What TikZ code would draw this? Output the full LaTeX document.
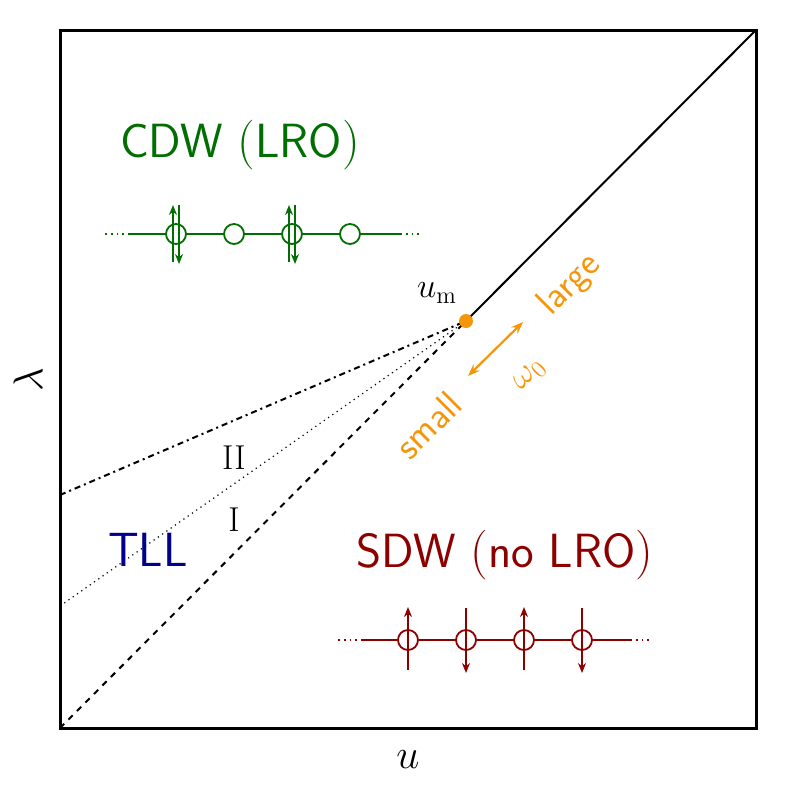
\documentclass[tikz,border=0pt]{standalone}
\usetikzlibrary{arrows.meta}
\definecolor{cdw}{RGB}{0,110,0}
\definecolor{sdw}{RGB}{140,0,0}
\definecolor{tll}{RGB}{0,0,140}
\definecolor{om}{RGB}{245,150,10}
\tikzset{
	site/.style={circle,draw,fill=white,minimum size=10pt,inner sep=0pt},
	spin/.style={-{Stealth[length=5pt,width=4pt]},line width=0.9pt},
	big/.style={font=\sffamily\fontsize{24}{28}\selectfont},
	mid/.style={font=\sffamily\fontsize{19}{22}\selectfont}
}
\begin{document}
\begin{tikzpicture}[x=0.5pt,y=-0.5pt]
		\useasboundingbox (0,0) rectangle (789,789);
		\draw[line width=1.5pt] (60,30) rectangle (756,728);
		\coordinate (um) at (466,321);
		\draw[line width=1pt] (um)--(756,30);
		\draw[line width=1pt,dashed] (60,728)--(um);
		\draw[line width=0.6pt,dotted] (60,606)--(um);
		\draw[line width=1pt,dash dot] (60,495)--(um);
		\fill[om] (um) circle (3.5pt);
		\node (uml) at (437,293) {\LARGE $u_{\mathrm{m}}$};
		\node (two) at (234,458) {\LARGE II};
		\node (one) at (234,520) {\LARGE I};
		\node (lam) at (28,380) [rotate=90] {\huge $\lambda$};
		\node (uax) at (408,760) {\huge $u$};
		% labels of the phases
		\node[big,cdw] (cdwl) at (240,145) {CDW $($LRO$)$};
		\node[big,tll] (tlll) at (148,550) {TLL};
		\node[big,sdw] (sdwl) at (505,555) {SDW $($no LRO$)$};
		% omega_0
		\coordinate (oa) at (468,376);
		\coordinate (ob) at (523,322);
		\draw[om,line width=1.1pt,{Stealth[length=6pt]}-{Stealth[length=6pt]}] (oa)--(ob);
		\node[om,rotate=45,mid] (lg) at (570,285) {large};
		\node[om,rotate=45,mid] (sm) at (428,425) {small};
		\node[om,rotate=45] (om0) at (530,375) {\LARGE $\omega_0$};
		% CDW chain
		\begin{scope}[cdw,line width=0.9pt]
		\draw[dotted] (105,234)--(128,234);
		\draw[dotted] (400,234)--(420,234);
		\draw (128,234)--(400,234);
		\foreach \x in {176,234,292,350} \node[site] (c\x) at (\x,234) {};
		\foreach \x in {176,292} {
			\draw[spin] (\x-3,262)--(\x-3,205);
			\draw[spin] (\x+3,205)--(\x+3,264);
		}
		\end{scope}
		% SDW chain
		\begin{scope}[sdw,line width=0.9pt]
		\draw[dotted] (338,640)--(361,640);
		\draw[dotted] (630,640)--(652,640);
		\draw (361,640)--(630,640);
		\foreach \x in {408,466,524,582} \node[site] (s\x) at (\x,640) {};
		\foreach \x in {408,524} \draw[spin] (\x,670)--(\x,607);
		\foreach \x in {466,582} \draw[spin] (\x,608)--(\x,673);
		\end{scope}
\end{tikzpicture}
\end{document}
